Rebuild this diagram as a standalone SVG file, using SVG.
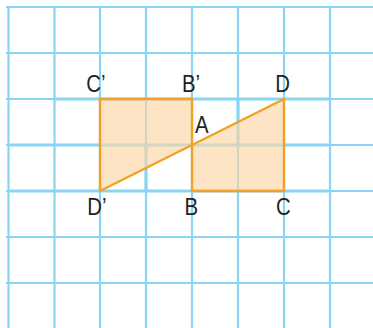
<svg xmlns="http://www.w3.org/2000/svg" width="373" height="328" viewBox="0 0 373 328">
  <style>
    .g { stroke: #8ad4f4; stroke-width: 2.2; fill: none; }
    .gt { stroke: #8ad4f4; stroke-width: 3.2; fill: none; }
    .shape { fill: #fbd6a4; fill-opacity: 0.65; stroke: #f3a126; stroke-width: 2.4; stroke-linejoin: round; }
    .lbl { font-family: "Liberation Sans", Arial, sans-serif; font-size: 24px; fill: #231f20; }
  </style>
  <rect width="373" height="328" fill="#ffffff"/>
  <g id="grid">
    <path class="g" d="M8.5 6V328 M54.5 6V328 M100 6V328 M146 6V328 M192 6V328 M238 6V328 M284 6V328 M330 6V328"/>
    <path class="g" d="M6 7H373 M6 53H373 M6 99H373 M6 145H373 M6 191H373 M6 237H373 M6 283H373"/>
    <path class="gt" d="M54.5 99H330 M8.5 145H330 M8.5 191H330 M146 145V191 M238 99V145"/>
  </g>
  <g id="shapes">
    <polygon id="left-shape" class="shape" points="100,99 192,99 192,145 100,191"/>
    <polygon id="right-shape" class="shape" points="192,145 284,99 284,191 192,191"/>
  </g>
  <g id="labels">
    <g id="C-prime"><text class="lbl" transform="translate(86.3,92) scale(0.85,1)">C’</text></g>
    <g id="B-prime"><text class="lbl" transform="translate(182,92) scale(0.85,1)">B’</text></g>
    <g id="D"><text class="lbl" transform="translate(275.2,92) scale(0.85,1)">D</text></g>
    <g id="A"><text class="lbl" transform="translate(195,133) scale(0.85,1)">A</text></g>
    <g id="D-prime"><text class="lbl" transform="translate(87.2,215) scale(0.85,1)">D’</text></g>
    <g id="B"><text class="lbl" transform="translate(184.6,215) scale(0.85,1)">B</text></g>
    <g id="C"><text class="lbl" transform="translate(276,215) scale(0.85,1)">C</text></g>
  </g>
</svg>
